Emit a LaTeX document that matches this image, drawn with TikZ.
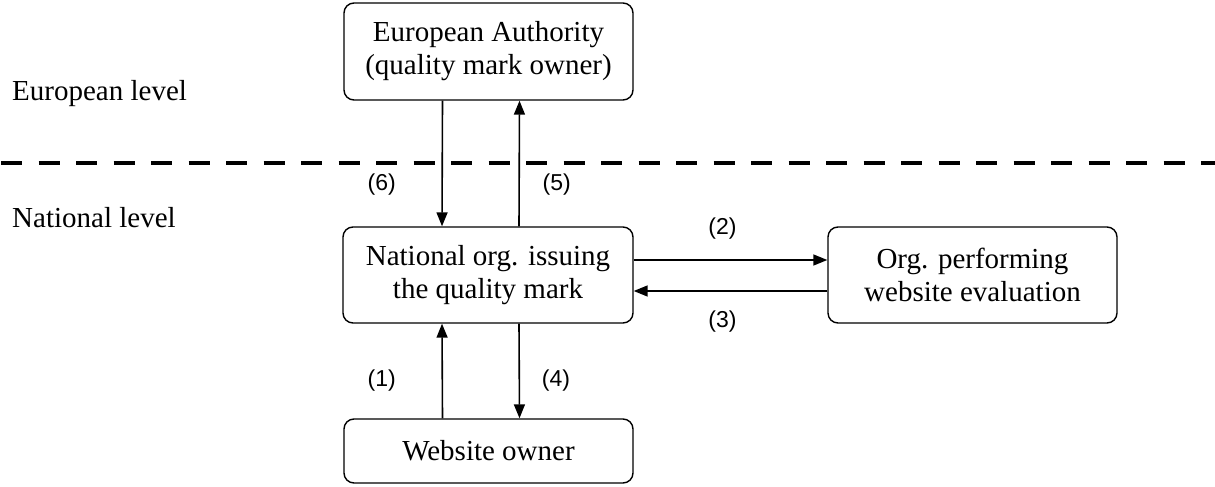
\documentclass[tikz,border=0pt]{standalone}
\usepackage{fontspec}
\setmainfont{Liberation Serif}
\newfontfamily\labfont{Liberation Sans}
\usetikzlibrary{arrows.meta}
\tikzset{
  box/.style={draw, line width=1.4pt, rounded corners=10pt, align=center,
    inner sep=0pt, font=\fontsize{29}{33}\selectfont},
  flow/.style={line width=1.6pt, -{Triangle[length=14pt,width=11pt]}},
  num/.style={font=\labfont\fontsize{23}{27}\selectfont, inner sep=0pt},
  level/.style={font=\fontsize{29}{33}\selectfont, anchor=base west, inner sep=0pt},
  divider/.style={line width=4pt, dash pattern=on 21pt off 16.5pt}
}
\begin{document}
\begin{tikzpicture}[x=1pt, y=-1pt]
  \useasboundingbox (0,0) rectangle (1215,487);

  % boundary between the two levels
  \coordinate (divL) at (1,163);
  \coordinate (divR) at (1215,163);
  \draw[divider] (divL) -- (divR);

  \node[level] (eulvl) at (12,100) {European level};
  \node[level] (natlvl) at (12,227) {National level};

  % organisations
  \node[box, minimum width=289pt, minimum height=97pt] (eu) at (488.5,51.5)
    {European Authority\\(quality mark owner)};
  \node[box, minimum width=290pt, minimum height=96pt] (nat) at (488,275)
    {National org. issuing\\the quality mark};
  \node[box, minimum width=289pt, minimum height=96pt] (org) at (972.5,275)
    {Org. performing\\website evaluation};
  \node[box, minimum width=289pt, minimum height=64pt] (web) at (488.5,451)
    {Website owner};

  % message flows
  \draw[flow] ([xshift=-46pt]eu.south) -- ([xshift=-46pt]nat.north);
  \draw[flow] ([xshift=31pt]nat.north) -- ([xshift=31pt]eu.south);
  \draw[flow] ([yshift=15pt]nat.east) -- ([yshift=15pt]org.west);
  \draw[flow] ([yshift=-16pt]org.west) -- ([yshift=-16pt]nat.east);
  \draw[flow] ([xshift=-46pt]web.north) -- ([xshift=-46pt]nat.south);
  \draw[flow] ([xshift=31pt]nat.south) -- ([xshift=31pt]web.north);

  % step numbers
  \node[num] (n6) at (381.7,184.7) {(6)};
  \node[num] (n5) at (556.7,184.7) {(5)};
  \node[num] (n2) at (722.5,229) {(2)};
  \node[num] (n3) at (722.5,321.7) {(3)};
  \node[num] (n1) at (381.7,380.8) {(1)};
  \node[num] (n4) at (556,380.8) {(4)};
\end{tikzpicture}
\end{document}
